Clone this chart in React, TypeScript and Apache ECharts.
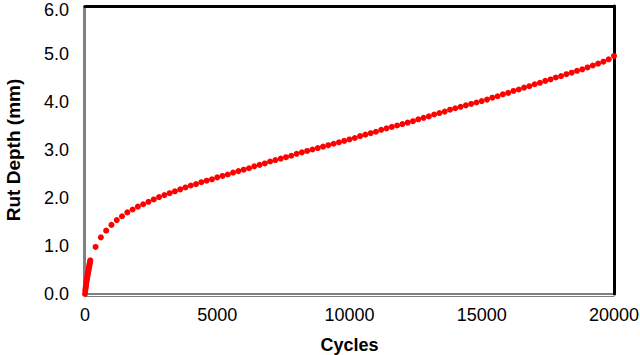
import React, { useEffect, useRef } from "react";
import * as echarts from "echarts";

// Early (dense) readings
const cyclesEarly = [0, 10, 20, 30, 40, 50, 60, 70, 80, 90, 100, 110, 120, 130, 140, 150, 160, 170, 180, 190, 200];
const rutEarly = [0.0, 0.06, 0.11, 0.15, 0.19, 0.23, 0.27, 0.3, 0.34, 0.37, 0.4, 0.43, 0.46, 0.49, 0.52, 0.55, 0.58, 0.61, 0.64, 0.67, 0.7];

// Regular readings
const cyclesMain = [
  400, 600, 800, 1000, 1200, 1400, 1600, 1800, 2000, 2200, 2400, 2600, 2800, 3000, 3200, 3400, 3600, 3800, 4000, 4200,
  4400, 4600, 4800, 5000, 5200, 5400, 5600, 5800, 6000, 6200, 6400, 6600, 6800, 7000, 7200, 7400, 7600, 7800, 8000, 8200,
  8400, 8600, 8800, 9000, 9200, 9400, 9600, 9800, 10000, 10200, 10400, 10600, 10800, 11000, 11200, 11400, 11600, 11800, 12000, 12200,
  12400, 12600, 12800, 13000, 13200, 13400, 13600, 13800, 14000, 14200, 14400, 14600, 14800, 15000, 15200, 15400, 15600, 15800, 16000, 16200,
  16400, 16600, 16800, 17000, 17200, 17400, 17600, 17800, 18000, 18200, 18400, 18600, 18800, 19000, 19200, 19400, 19600, 19800, 20000,
];
const rutMain = [
  0.98, 1.18, 1.32, 1.44, 1.54, 1.62, 1.7, 1.76, 1.82, 1.87, 1.92, 1.97, 2.02, 2.06, 2.1, 2.14, 2.18, 2.22, 2.26, 2.29,
  2.33, 2.36, 2.39, 2.43, 2.46, 2.49, 2.53, 2.56, 2.59, 2.62, 2.66, 2.69, 2.72, 2.76, 2.79, 2.82, 2.85, 2.88, 2.92, 2.95,
  2.98, 3.01, 3.04, 3.07, 3.1, 3.13, 3.16, 3.19, 3.22, 3.25, 3.29, 3.32, 3.35, 3.38, 3.42, 3.45, 3.48, 3.51, 3.54, 3.57,
  3.6, 3.64, 3.67, 3.7, 3.74, 3.77, 3.8, 3.84, 3.87, 3.9, 3.93, 3.96, 3.99, 4.02, 4.05, 4.09, 4.12, 4.16, 4.19, 4.23,
  4.26, 4.3, 4.33, 4.37, 4.4, 4.44, 4.47, 4.51, 4.54, 4.58, 4.61, 4.65, 4.68, 4.72, 4.76, 4.8, 4.84, 4.89, 4.96,
];

const xTicks = { min: 0, max: 20000, interval: 5000 };
const yTicks = { min: 0, max: 6, interval: 1 };

const FONT = "Liberation Sans, Arial, sans-serif";

export default function App() {
  const ref = useRef<HTMLDivElement>(null);

  useEffect(() => {
    if (!ref.current) return;
    const chart = echarts.init(ref.current, undefined, { renderer: "svg" });
    const cycles = [...cyclesEarly, ...cyclesMain];
    const rut = [...rutEarly, ...rutMain];
    const data = cycles.map((c, i) => [c, rut[i]]);

    chart.setOption({
      animation: false,
      backgroundColor: "#ffffff",
      grid: {
        left: 85,
        right: 26,
        top: 6,
        bottom: 61,
        show: true,
        borderColor: "#000",
        borderWidth: 1,
        containLabel: false,
        outerBoundsMode: "none",
      },
      xAxis: [
        {
          type: "value",
          position: "bottom",
          min: xTicks.min,
          max: xTicks.max,
          interval: xTicks.interval,
          offset: 2,
          name: "Cycles",
          nameLocation: "middle",
          nameGap: 40,
          nameTextStyle: { fontFamily: FONT, fontSize: 18, fontWeight: "bold", color: "#000" },
          axisLine: { show: true, onZero: false, lineStyle: { color: "#808080", width: 1 } },
          axisTick: { show: false },
          splitLine: { show: false },
          axisLabel: {
            fontFamily: FONT,
            fontSize: 18,
            color: "#000",
            margin: 10,
            formatter: (v: number) => String(v),
          },
        },
        {
          type: "value",
          position: "top",
          min: xTicks.min,
          max: xTicks.max,
          axisLine: { show: true, onZero: false, lineStyle: { color: "#000", width: 3 } },
          axisTick: { show: false },
          axisLabel: { show: false },
          splitLine: { show: false },
        },
      ],
      yAxis: [
        {
          type: "value",
          position: "left",
          min: yTicks.min,
          max: yTicks.max,
          interval: yTicks.interval,
          offset: 2,
          name: "Rut Depth (mm)",
          nameLocation: "middle",
          nameGap: 60,
          nameTextStyle: { fontFamily: FONT, fontSize: 19, fontWeight: "bold", color: "#000" },
          axisLine: { show: true, onZero: false, lineStyle: { color: "#808080", width: 1 } },
          axisTick: { show: false },
          splitLine: { show: false },
          axisLabel: {
            fontFamily: FONT,
            fontSize: 18,
            color: "#000",
            margin: 14,
            formatter: (v: number) => (v === yTicks.max ? `{top|${v.toFixed(1)}}` : v.toFixed(1)),
            rich: {
              top: {
                fontFamily: FONT,
                fontSize: 18,
                color: "#000",
                padding: [8, 0, 0, 0],
              },
            },
          },
        },
        {
          type: "value",
          position: "right",
          min: yTicks.min,
          max: yTicks.max,
          axisLine: { show: true, onZero: false, lineStyle: { color: "#000", width: 3 } },
          axisTick: { show: false },
          axisLabel: { show: false },
          splitLine: { show: false },
        },
      ],
      series: [
        {
          type: "scatter",
          xAxisIndex: 0,
          yAxisIndex: 0,
          data,
          symbol: "circle",
          symbolSize: 6,
          itemStyle: { color: "#ff0000", opacity: 1 },
        },
      ],
    });

    return () => chart.dispose();
  }, []);

  return <div ref={ref} style={{ width: 640, height: 355, position: "absolute", left: 0, top: 0 }} />;
}
